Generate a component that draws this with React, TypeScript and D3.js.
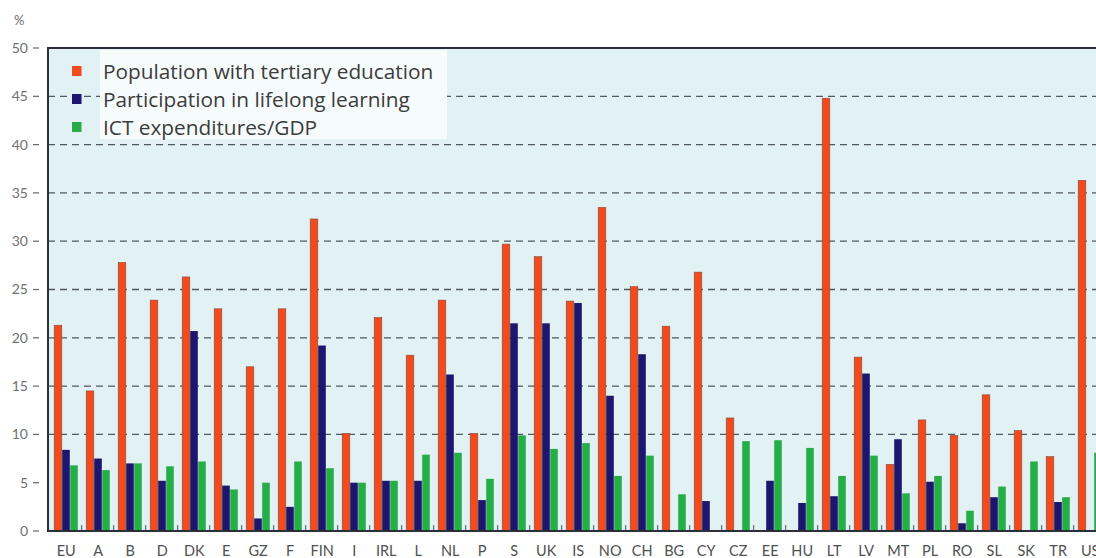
import React from "react";
import * as d3 from "d3";

const countries = [
  "EU", "A", "B", "D", "DK", "E", "GZ", "F", "FIN", "I", "IRL", "L", "NL", "P", "S", "UK", "IS",
  "NO", "CH", "BG", "CY", "CZ", "EE", "HU", "LT", "LV", "MT", "PL", "RO", "SL", "SK", "TR", "US",
];

const tertiary: (number | null)[] = [
  21.3, 14.5, 27.8, 23.9, 26.3, 23.0, 17.0, 23.0, 32.3, 10.1, 22.1, 18.2, 23.9, 10.1, 29.7, 28.4, 23.8,
  33.5, 25.3, 21.2, 26.8, 11.7, null, null, 44.8, 18.0, 6.9, 11.5, 9.9, 14.1, 10.4, 7.7, 36.3,
];

const lifelong: (number | null)[] = [
  8.4, 7.5, 7.0, 5.2, 20.7, 4.7, 1.3, 2.5, 19.2, 5.0, 5.2, 5.2, 16.2, 3.2, 21.5, 21.5, 23.6,
  14.0, 18.3, null, 3.1, null, 5.2, 2.9, 3.6, 16.3, 9.5, 5.1, 0.8, 3.5, null, 3.0, null,
];

const ictGdp: (number | null)[] = [
  6.8, 6.3, 7.0, 6.7, 7.2, 4.3, 5.0, 7.2, 6.5, 5.0, 5.2, 7.9, 8.1, 5.4, 9.9, 8.5, 9.1,
  5.7, 7.8, 3.8, null, 9.3, 9.4, 8.6, 5.7, 7.8, 3.9, 5.7, 2.1, 4.6, 7.2, 3.5, 8.1,
];

const seriesNames = [
  "Population with tertiary education",
  "Participation in lifelong learning",
  "ICT expenditures/GDP",
];
const seriesColors = ["#f2491d", "#1c166e", "#26ad49"];
const seriesValues = [tertiary, lifelong, ictGdp];

const yTicks = [0, 5, 10, 15, 20, 25, 30, 35, 40, 45, 50];
const gridTicks = [10, 15, 20, 25, 30, 35, 40, 45];

const W = 1096;
const H = 558;
const left = 48;
const top = 48;
const bottom = 531;
const bandW = 32;
const bandStart = 49.7;

const FONT = "Lato, 'Open Sans', sans-serif";

export default function App() {
  const x = d3
    .scaleBand<string>()
    .domain(countries)
    .range([bandStart, bandStart + bandW * countries.length])
    .padding(0);
  const inner = d3.scaleBand<number>().domain([0, 1, 2]).range([4.5, 28.5]).padding(0);
  const y = d3.scaleLinear().domain([0, 50]).range([bottom, top]);

  const barW = 7.6;

  return (
    <svg
      width={W}
      height={H}
      style={{ position: "absolute", left: 0, top: 0, background: "#ffffff" }}
      fontFamily={FONT}
    >
      {/* plot background */}
      <rect x={left} y={top} width={W - left + 20} height={bottom - top} fill="#e1f1f4" />

      {/* dashed grid */}
      {gridTicks.map((t) => (
        <line
          key={"g" + t}
          x1={left}
          x2={W}
          y1={y(t)}
          y2={y(t)}
          stroke="#3a3f48"
          strokeWidth={1.3}
          strokeDasharray="7 5"
          opacity={0.85}
        />
      ))}

      {/* legend panel */}
      <rect x={100} y={top + 2} width={347} height={89} fill="#f6fbfb" />

      {/* bars */}
      {countries.map((c, i) => (
        <g key={c}>
          {seriesValues.map((vals, s) => {
            const v = vals[i];
            if (v == null) return null;
            const bx = (x(c) as number) + (inner(s) as number);
            return (
              <rect
                key={s}
                x={bx}
                y={y(v)}
                width={barW}
                height={y(0) - y(v)}
                fill={seriesColors[s]}
                stroke={s === 0 ? "#8a4a3a" : "none"}
                strokeWidth={s === 0 ? 0.6 : 0}
              />
            );
          })}
          {/* small separator tick on the baseline */}
          <line
            x1={(x(c) as number) + bandW}
            x2={(x(c) as number) + bandW}
            y1={bottom - 6}
            y2={bottom}
            stroke="#555"
            strokeWidth={1}
          />
        </g>
      ))}

      {/* frame */}
      <line x1={left} x2={W} y1={top} y2={top} stroke="#2b2f3a" strokeWidth={2} />
      <line x1={left} x2={left} y1={top - 1} y2={bottom + 1} stroke="#2b2f3a" strokeWidth={2} />
      <line x1={left} x2={W} y1={bottom} y2={bottom} stroke="#2b2f3a" strokeWidth={2} />

      {/* y axis ticks and labels */}
      {yTicks.map((t) => (
        <g key={"t" + t}>
          <line x1={33} x2={39} y1={y(t)} y2={y(t)} stroke="#666" strokeWidth={1.2} />
          <text x={28} y={y(t)} dy="0.35em" textAnchor="end" fontSize={14} fill="#707070">
            {t}
          </text>
        </g>
      ))}
      <text x={14} y={25} fontSize={13} fill="#707070">
        %
      </text>

      {/* category labels */}
      {countries.map((c) => (
        <text
          key={"l" + c}
          x={(x(c) as number) + 16.5}
          y={556}
          textAnchor="middle"
          fontSize={14.5}
          fill="#505050"
        >
          {c}
        </text>
      ))}

      {/* legend */}
      {seriesNames.map((name, s) => (
        <g key={name} transform={`translate(72, ${71 + s * 28})`}>
          <rect x={0} y={-5} width={9.5} height={10} fill={seriesColors[s]} />
          <text
            x={31}
            y={0}
            dy="0.36em"
            fontSize={20.8}
            fill="#3c3c3c"
            fontFamily="'Open Sans', Lato, sans-serif"
          >
            {name}
          </text>
        </g>
      ))}
    </svg>
  );
}
